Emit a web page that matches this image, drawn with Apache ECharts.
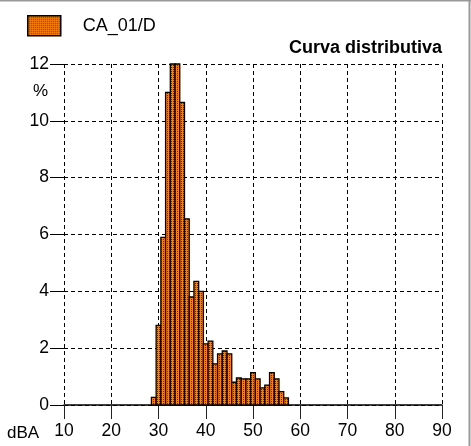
<!DOCTYPE html>
<html>
<head>
<meta charset="utf-8">
<script src="https://cdn.jsdelivr.net/npm/echarts@6/dist/echarts.min.js"></script>
<style>
  html, body { margin: 0; padding: 0; background: #fff; }
  #chart { width: 471px; height: 446px; }
</style>
</head>
<body>
<div id="chart"></div>
<script>
// Sound level classes (dBA, bar centres) and their share of time (%)
const levels = [29, 30, 31, 32, 33, 34, 35, 36, 37, 38, 39, 40, 41, 42, 43,
                44, 45, 46, 47, 48, 49, 50, 51, 52, 53, 54, 55, 56, 57];
const percent = [0.27, 2.8, 5.9, 11.0, 14.5, 15.1, 10.65, 6.55, 3.8, 4.35, 4.0, 2.15, 2.25, 1.45, 1.8,
                 1.9, 1.8, 0.8, 0.95, 0.92, 0.92, 1.14, 0.92, 0.6, 0.7, 1.14, 0.92, 0.47, 0.25];
const seriesName = 'CA_01/D';
const xTicks = [10, 20, 30, 40, 50, 60, 70, 80, 90];
const yTicks = [0, 2, 4, 6, 8, 10, 12];

const FONT = '"Liberation Sans", Arial, sans-serif';

// Orange fill with a fine dark dot raster
const tile = document.createElement('canvas');
tile.width = 2; tile.height = 2;
const tg = tile.getContext('2d');
tg.fillStyle = '#ff8000';
tg.fillRect(0, 0, 2, 2);
tg.fillStyle = '#5a2c00';
tg.fillRect(1, 1, 1, 1);
const dotted = { image: tile, repeat: 'repeat' };

const chart = echarts.init(document.getElementById('chart'), null, { renderer: 'canvas' });

const dash = { color: '#000', width: 1, type: [4, 3] };

chart.setOption({
  animation: false,
  backgroundColor: '#fff',
  textStyle: { fontFamily: FONT },
  grid: { left: 64, right: 29, top: 64, bottom: 41, containLabel: false },
  title: {
    text: 'Curva distributiva',
    right: 29, top: 39, padding: 0,
    textStyle: { fontFamily: FONT, fontSize: 18, fontWeight: 'bold', color: '#000' }
  },
  legend: {
    left: 27, top: 15, padding: 0,
    itemWidth: 33, itemHeight: 20,
    icon: 'rect',
    data: [seriesName],
    itemStyle: { borderColor: '#000', borderWidth: 1.5 },
    textStyle: { fontFamily: FONT, fontSize: 18, color: '#000', padding: [0, 0, 0, 17] }
  },
  xAxis: {
    type: 'value',
    min: xTicks[0], max: xTicks[xTicks.length - 1], interval: 10,
    axisLine: { show: true, onZero: false, lineStyle: { color: '#000', width: 1.5 } },
    axisTick: { show: true, length: 14, lineStyle: { color: '#222', width: 1 } },
    axisLabel: { fontFamily: FONT, fontSize: 17.5, color: '#000', margin: 17 },
    splitLine: { show: true, lineStyle: dash }
  },
  yAxis: {
    type: 'value',
    min: yTicks[0], max: yTicks[yTicks.length - 1], interval: 2,
    axisLine: { show: false },
    axisTick: { show: true, length: 14, lineStyle: { color: '#000', width: 1 } },
    axisLabel: { fontFamily: FONT, fontSize: 17.5, color: '#000', margin: 15 },
    splitLine: { show: true, lineStyle: dash }
  },
  graphic: [
    { type: 'text', left: 33, top: 83, style: { text: '%', font: '17px ' + FONT, fill: '#000' } },
    { type: 'text', left: 7, top: 425, style: { text: 'dBA', font: '17px ' + FONT, fill: '#000' } },
    { type: 'line', shape: { x1: 0, y1: 0.5, x2: 471, y2: 0.5 }, style: { stroke: '#999', lineWidth: 2 } },
    { type: 'line', shape: { x1: 469.5, y1: 0, x2: 469.5, y2: 446 }, style: { stroke: '#999', lineWidth: 2 } }
  ],
  series: [{
    name: seriesName,
    type: 'custom',
    itemStyle: { color: dotted, borderColor: '#000', borderWidth: 1.5 },
    data: levels.map((l, i) => [l, percent[i]]),
    renderItem: function (params, api) {
      const x = api.value(0), y = api.value(1);
      const p0 = api.coord([x - 0.5, y]);
      const p1 = api.coord([x + 0.5, 0]);
      const cs = params.coordSys;
      const shape = echarts.graphic.clipRectByRect(
        { x: p0[0], y: p0[1], width: p1[0] - p0[0], height: p1[1] - p0[1] },
        { x: cs.x, y: cs.y, width: cs.width, height: cs.height }
      );
      if (!shape) return null;
      return {
        type: 'rect',
        shape: shape,
        style: { fill: dotted, stroke: '#000', lineWidth: 1.3 }
      };
    }
  }]
});
</script>
</body>
</html>
